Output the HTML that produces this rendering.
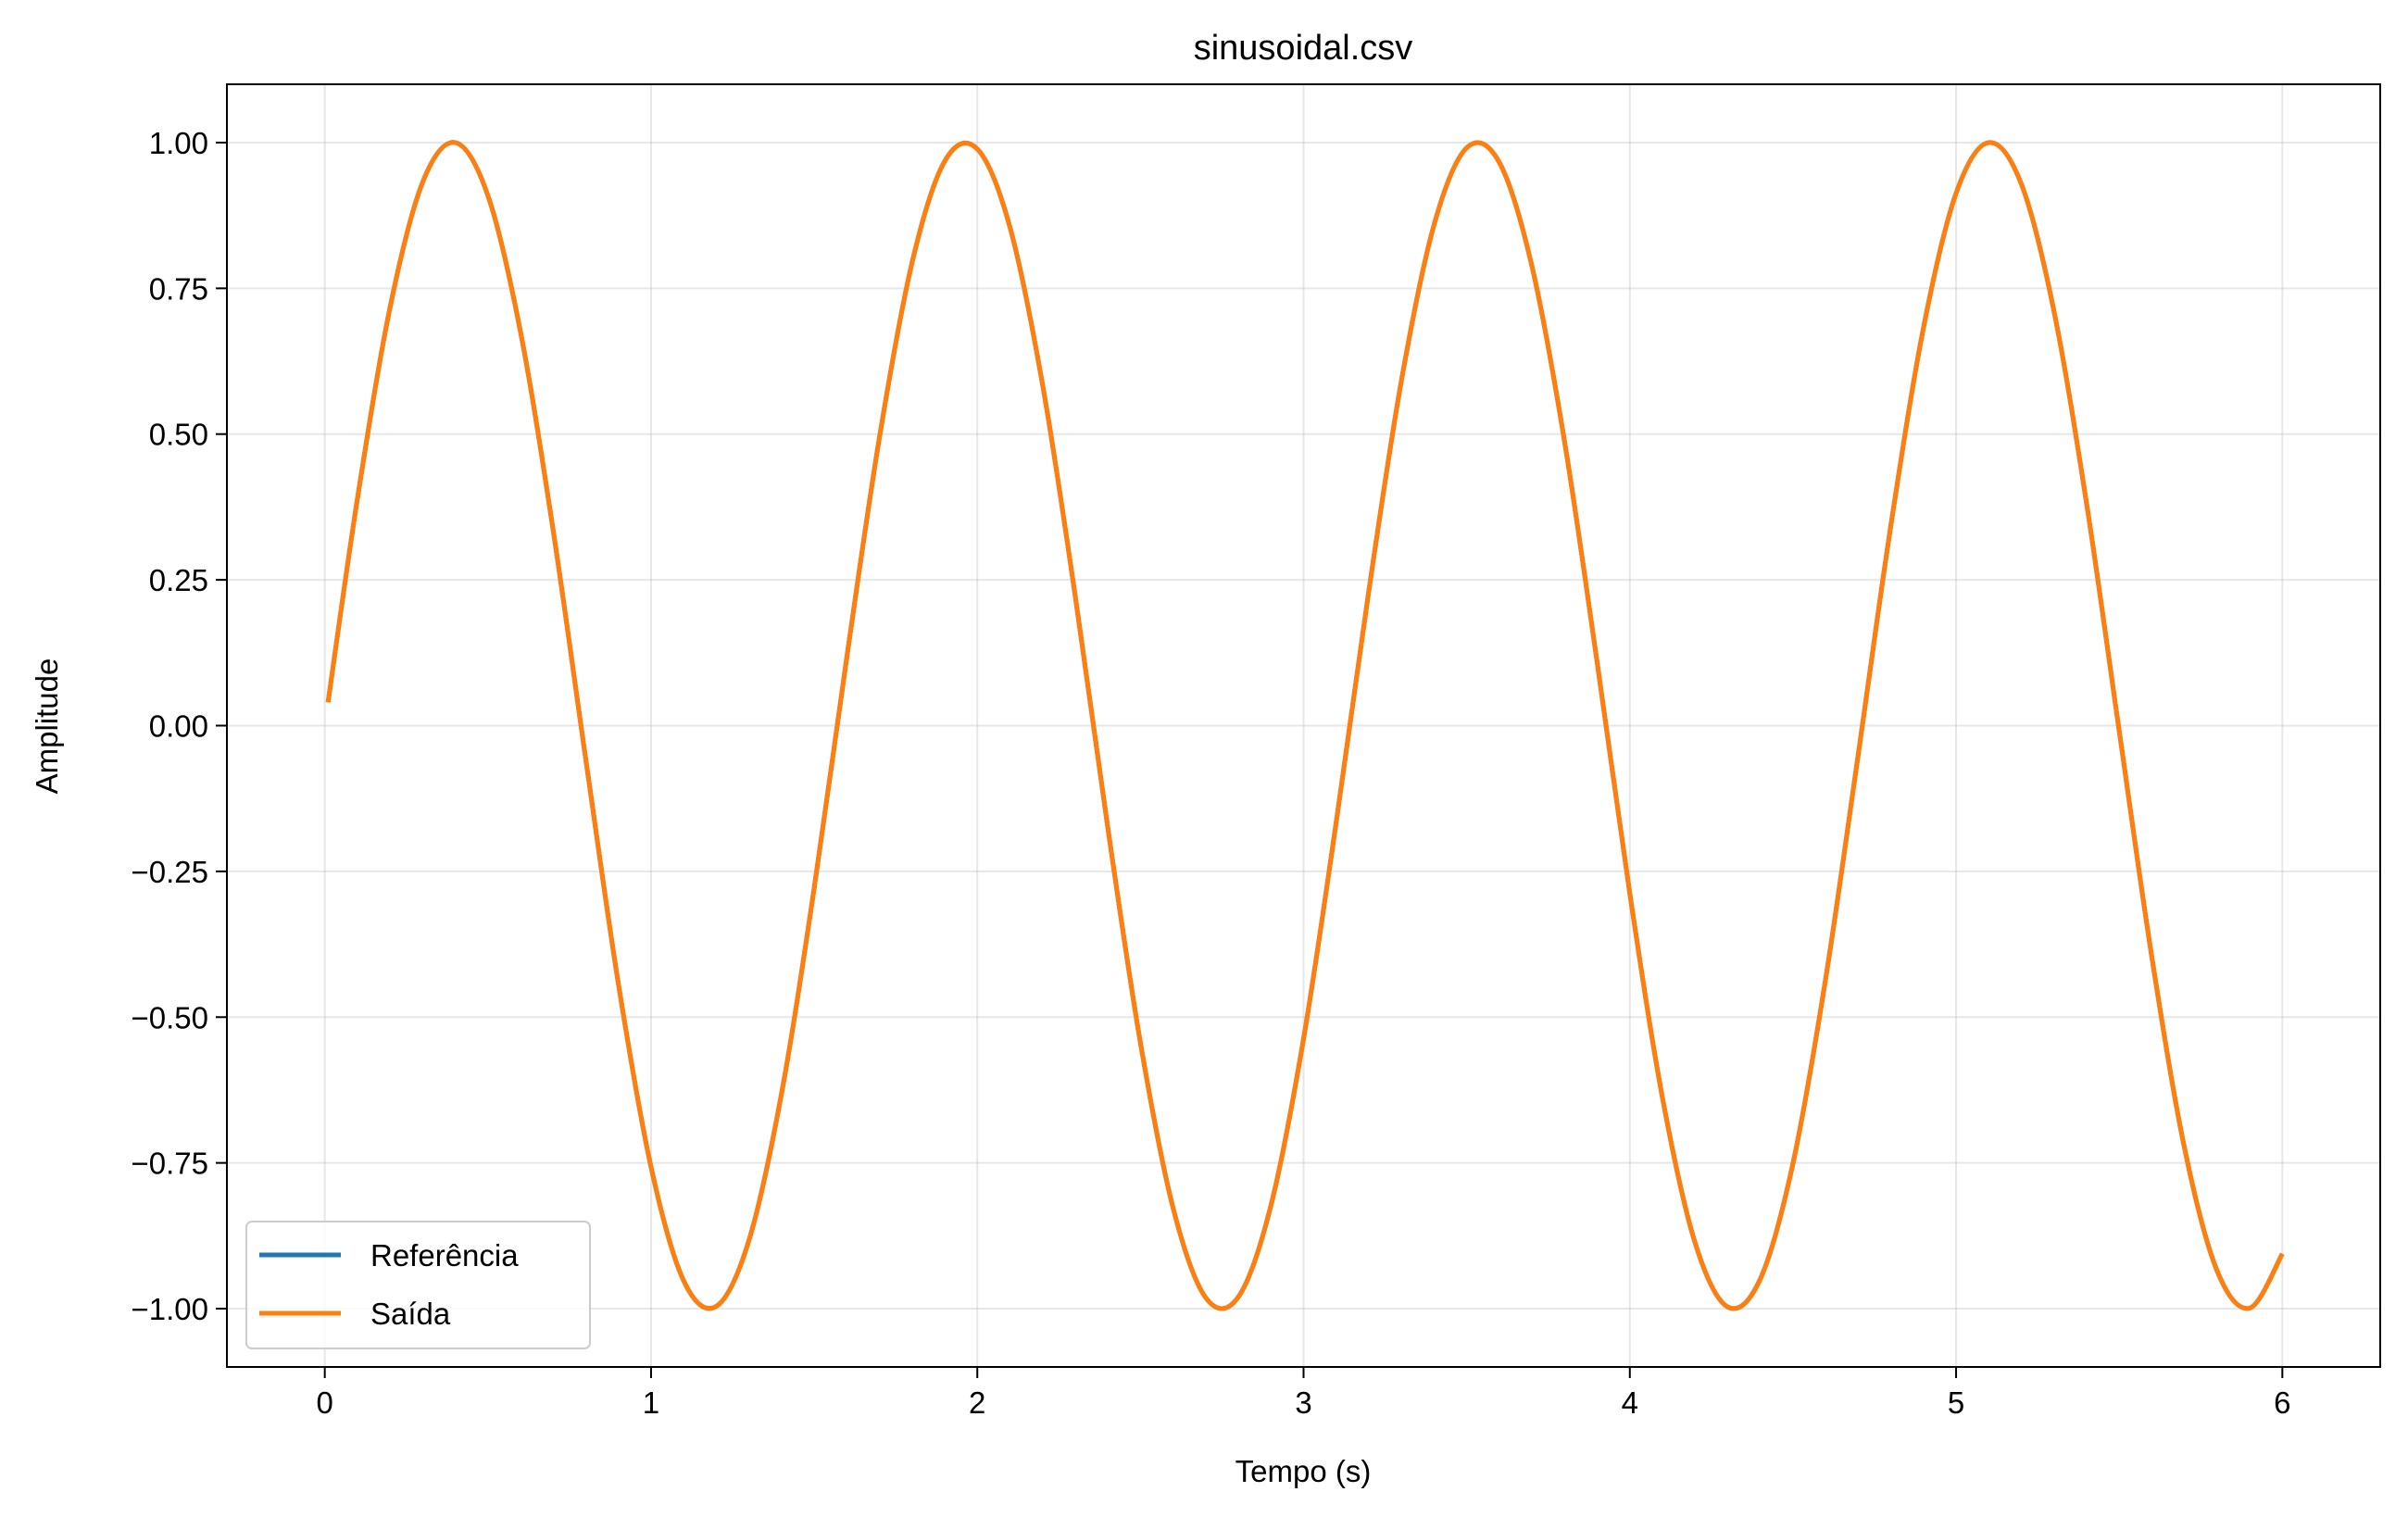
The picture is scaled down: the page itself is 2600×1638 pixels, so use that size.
<!DOCTYPE html>
<html><head><meta charset="utf-8"><style>
html,body{margin:0;padding:0;background:#fff;}
svg{display:block;font-family:"Liberation Sans","DejaVu Sans",sans-serif;}
</style></head><body>
<svg id="chart" width="2600" height="1638" viewBox="0 0 2600 1638" xmlns="http://www.w3.org/2000/svg">
<rect width="2600" height="1638" fill="#fff"/>
<g id="grid"></g>
<g id="series"></g>
<rect x="245" y="91" width="2325" height="1385" fill="none" stroke="#000" stroke-width="2"/>
<g id="ticks"></g>
<text x="1407" y="64" font-size="38" text-anchor="middle">sinusoidal.csv</text>
<text x="1407" y="1600" font-size="33" text-anchor="middle">Tempo (s)</text>
<text x="0" y="0" font-size="33" text-anchor="middle" transform="translate(62,784) rotate(-90)">Amplitude</text>
<g>
<rect x="266" y="1319" width="371" height="137" rx="6" fill="#fff" fill-opacity="0.8" stroke="#ccc" stroke-width="2"/>
<line x1="280" y1="1355" x2="368" y2="1355" stroke="#1f77b4" stroke-width="5"/>
<text x="400" y="1367" font-size="33">Referência</text>
<line x1="280" y1="1418" x2="368" y2="1418" stroke="#ff7f0e" stroke-width="5"/>
<text x="400" y="1430" font-size="33">Saída</text>
</g>
</svg>
<script>
const times = [0.01,0.1,0.2,0.3,0.4,0.5,0.6,0.7,0.8,0.9,1.0,1.1,1.2,1.3,1.4,1.5,1.6,1.7,1.8,1.9,2.0,2.1,2.2,2.3,2.4,2.5,2.6,2.7,2.8,2.9,3.0,3.1,3.2,3.3,3.4,3.5,3.6,3.7,3.8,3.9,4.0,4.1,4.2,4.3,4.4,4.5,4.6,4.7,4.8,4.9,5.0,5.1,5.2,5.3,5.4,5.5,5.6,5.7,5.8,5.9,6.0];
const referencia = [0.04,0.389,0.717,0.932,1.0,0.909,0.675,0.335,-0.058,-0.443,-0.757,-0.952,-0.996,-0.883,-0.631,-0.279,0.117,0.494,0.794,0.968,0.989,0.855,0.585,0.223,-0.175,-0.544,-0.827,-0.981,-0.980,-0.823,-0.537,-0.166,0.231,0.592,0.859,0.991,0.966,0.788,0.487,0.108,-0.288,-0.638,-0.887,-0.997,-0.949,-0.751,-0.435,-0.050,0.343,0.682,0.913,1.0,0.929,0.711,0.381,-0.009,-0.397,-0.724,-0.935,-0.999,-0.906];
const saida = [0.04,0.389,0.717,0.932,1.0,0.909,0.675,0.335,-0.058,-0.443,-0.757,-0.952,-0.996,-0.883,-0.631,-0.279,0.117,0.494,0.794,0.968,0.989,0.855,0.585,0.223,-0.175,-0.544,-0.827,-0.981,-0.980,-0.823,-0.537,-0.166,0.231,0.592,0.859,0.991,0.966,0.788,0.487,0.108,-0.288,-0.638,-0.887,-0.997,-0.949,-0.751,-0.435,-0.050,0.343,0.682,0.913,1.0,0.929,0.711,0.381,-0.009,-0.397,-0.724,-0.935,-0.999,-0.906];
const xTicks = [0,1,2,3,4,5,6];
const yTicks = [-1,-0.75,-0.5,-0.25,0,0.25,0.5,0.75,1];
const yTickLabels = ["\u22121.00","\u22120.75","\u22120.50","\u22120.25","0.00","0.25","0.50","0.75","1.00"];

const X0=245,X1=2570,Y0=91,Y1=1476,xmin=-0.3,xmax=6.3,ymin=-1.1,ymax=1.1;
function xs(v){return X0+(v-xmin)/(xmax-xmin)*(X1-X0);}
function ys(v){return Y0+(ymax-v)/(ymax-ymin)*(Y1-Y0);}
const NS="http://www.w3.org/2000/svg";
const grid=document.getElementById('grid'),ticks=document.getElementById('ticks'),series=document.getElementById('series');
function mk(tag,attrs,parent){const e=document.createElementNS(NS,tag);for(const k in attrs)e.setAttribute(k,attrs[k]);parent.appendChild(e);return e;}
xTicks.forEach(v=>{
  const x=xs(v);
  const g=mk('line',{x1:x,y1:Y0,x2:x,y2:Y1,stroke:'#b0b0b0','stroke-opacity':0.3,'stroke-width':2},grid);
  
  
  const t=mk('line',{x1:x,y1:Y1,x2:x,y2:Y1+12,stroke:'#000','stroke-width':2},ticks);
  
  
  const l=mk('text',{x:x,y:Y1+50,'font-size':33,'text-anchor':'middle'},ticks);
  l.textContent=String(v);
  
  
});
yTicks.forEach((v,i)=>{
  const y=ys(v);
  const g=mk('line',{x1:X0,y1:y,x2:X1,y2:y,stroke:'#b0b0b0','stroke-opacity':0.3,'stroke-width':2},grid);
  
  
  const t=mk('line',{x1:X0-12,y1:y,x2:X0,y2:y,stroke:'#000','stroke-width':2},ticks);
  
  
  const l=mk('text',{x:X0-20,y:y+12,'font-size':33,'text-anchor':'end'},ticks);
  l.textContent=yTickLabels[i];
  
  
});
function pathFor(ts,vs){
  const p=ts.map((t,i)=>[xs(t),ys(vs[i])]);
  let d='M'+p[0][0]+','+p[0][1];
  for(let i=0;i<p.length-1;i++){
    const a=p[Math.max(0,i-1)],b=p[i],c=p[i+1],e=p[Math.min(p.length-1,i+2)];
    const c1=[b[0]+(c[0]-a[0])/6,b[1]+(c[1]-a[1])/6];
    const c2=[c[0]-(e[0]-b[0])/6,c[1]-(e[1]-b[1])/6];
    d+=' C'+c1[0]+','+c1[1]+' '+c2[0]+','+c2[1]+' '+c[0]+','+c[1];
  }
  return d;
}
const l1=mk('path',{d:pathFor(times,referencia),fill:'none',stroke:'#1f77b4','stroke-width':5},series);


const l2=mk('path',{d:pathFor(times,saida),fill:'none',stroke:'#ff7f0e','stroke-width':5},series);


</script>
</body></html>
